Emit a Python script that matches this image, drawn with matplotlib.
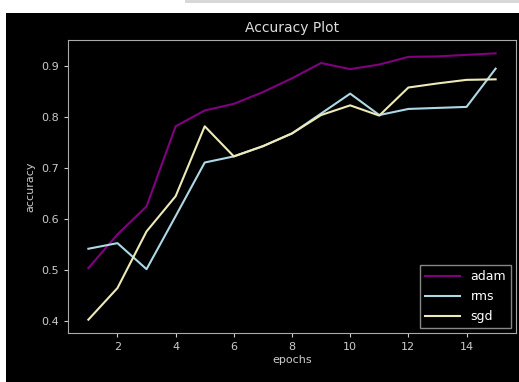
import matplotlib
matplotlib.use("Agg")
import matplotlib.pyplot as plt
from matplotlib.patches import Rectangle

# values
epochs = list(range(1, 16))
adam = [0.503, 0.569, 0.624, 0.781, 0.812, 0.825, 0.848, 0.875, 0.905, 0.893, 0.902, 0.917, 0.918, 0.921, 0.924]
rms = [0.541, 0.552, 0.501, 0.605, 0.710, 0.722, 0.742, 0.767, 0.806, 0.845, 0.803, 0.815, 0.817, 0.819, 0.894]
sgd = [0.402, 0.464, 0.575, 0.644, 0.781, 0.722, 0.742, 0.767, 0.803, 0.822, 0.802, 0.857, 0.865, 0.872, 0.873]

plt.style.use("dark_background")

fig = plt.figure(figsize=(5.19, 3.82), dpi=100)
fig.patch.set_facecolor("white")
# black screenshot area with a thin white margin top and left
fig.patches.append(Rectangle((6 / 519, 0), 1, (382 - 13) / 382, transform=fig.transFigure,
                             facecolor="black", edgecolor="none", zorder=-10))
fig.patches.append(Rectangle((185 / 519, 1 - 3 / 382), 1, 3 / 382, transform=fig.transFigure,
                             facecolor="#d8d8d8", edgecolor="none", zorder=-10))

ax = fig.add_axes([68 / 519, 49 / 382, 448 / 519, 293 / 382])
ax.set_facecolor("black")

ax.plot(epochs, adam, color="purple", lw=1.5, label="adam")
ax.plot(epochs, rms, color="lightblue", lw=1.5, label="rms")
ax.plot(epochs, sgd, color="#eeeab8", lw=1.5, label="sgd")

ax.set_title("Accuracy Plot", fontsize=10, color="#dddddd")
ax.set_xlabel("epochs", fontsize=8, color="#cccccc", labelpad=2)
ax.set_ylabel("accuracy", fontsize=8, color="#cccccc", labelpad=4)
ax.set_xticks([2, 4, 6, 8, 10, 12, 14])
ax.set_yticks([0.4, 0.5, 0.6, 0.7, 0.8, 0.9])
ax.tick_params(labelsize=8, colors="#cccccc", length=3)
for s in ax.spines.values():
    s.set_color("#aaaaaa")

leg = ax.legend(loc="lower right", fontsize=9, frameon=True, handlelength=2.8,
                labelspacing=0.55, borderaxespad=0.4, fancybox=False)
leg.get_frame().set_edgecolor("#aaaaaa")
leg.get_frame().set_facecolor("black")

fig.savefig("out.png", dpi=100, facecolor=fig.get_facecolor())
